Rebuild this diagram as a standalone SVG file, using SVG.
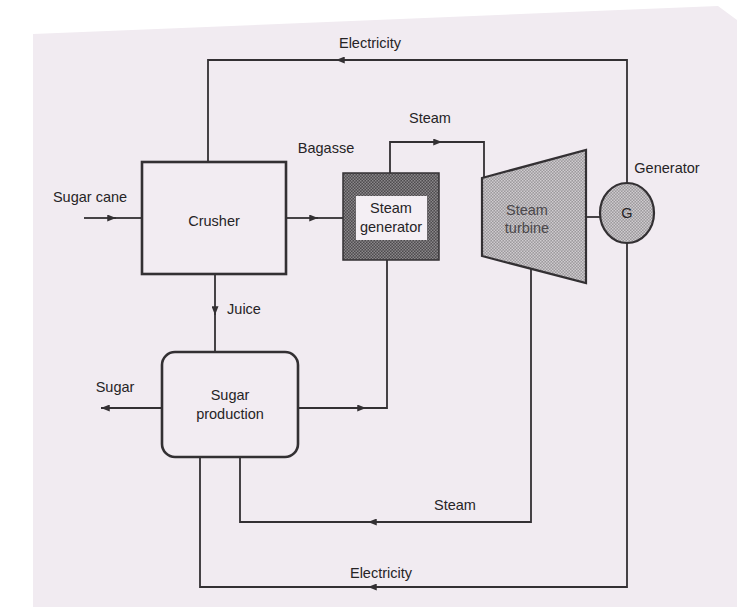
<svg xmlns="http://www.w3.org/2000/svg" width="737" height="607" viewBox="0 0 737 607">
  <defs>
    <style>
      .t { font-family: "Liberation Sans", Arial, sans-serif; font-size: 14.5px; fill: #262426; text-anchor: middle; }
      .ln { fill: none; stroke: #333033; stroke-width: 1.8; stroke-linejoin: miter; }
      .arr { fill: none; stroke: #333033; stroke-width: 1.8; marker-end: url(#ah); }
      .box { fill: #f2ecf2; stroke: #333033; stroke-width: 2.6; }
    </style>
    <marker id="ah" viewBox="0 0 10 8" refX="10" refY="4" markerWidth="9" markerHeight="7" markerUnits="userSpaceOnUse" orient="auto">
      <path d="M0,0 L10,4 L0,8 Z" fill="#333033"/>
    </marker>
    <pattern id="darkHatch" width="3" height="3" patternUnits="userSpaceOnUse">
      <rect width="3" height="3" fill="#4e4b4e"/>
      <rect x="0" y="0" width="1.5" height="1.5" fill="#8a878a"/>
      <rect x="1.5" y="1.5" width="1.5" height="1.5" fill="#8a878a"/>
    </pattern>
    <pattern id="lightHatch" width="3" height="3" patternUnits="userSpaceOnUse">
      <rect width="3" height="3" fill="#9c999c"/>
      <rect x="0" y="0" width="1.5" height="1.5" fill="#cfcbcf"/>
      <rect x="1.5" y="1.5" width="1.5" height="1.5" fill="#cfcbcf"/>
    </pattern>
  </defs>

  <!-- scanned page background -->
  <rect width="737" height="607" fill="#ffffff"/>
  <polygon points="33,34 718,6 737,20 737,607 33,607" fill="#f1ebf1"/>

  <!-- connectors -->
  <g id="connectors">
    <!-- Sugar cane in -->
    <path class="arr" d="M84,218 L116,218"/>
    <path class="ln" d="M114,218 L142,218"/>
    <!-- Bagasse -->
    <path class="arr" d="M286,218 L318,218"/>
    <path class="ln" d="M316,218 L343,218"/>
    <!-- Juice -->
    <path class="arr" d="M215,274 L215,315"/>
    <path class="ln" d="M215,313 L215,352"/>
    <!-- Sugar out -->
    <path class="arr" d="M162,408 L101,408"/>
    <!-- Sugar production to steam generator -->
    <path class="arr" d="M298,408 L366,408"/>
    <path class="ln" d="M364,408 L387,408 L387,260"/>
    <!-- Steam to turbine -->
    <path class="arr" d="M390,173 L390,142 L442,142"/>
    <path class="ln" d="M440,142 L484,142 L484,178"/>
    <!-- Shaft -->
    <path class="ln" d="M586,217 L600,217"/>
    <!-- Electricity top -->
    <path class="arr" d="M627,183 L627,60 L336,60"/>
    <path class="ln" d="M338,60 L208,60 L208,162"/>
    <!-- Steam bottom -->
    <path class="arr" d="M531,269 L531,522 L368,522"/>
    <path class="ln" d="M370,522 L240,522 L240,457"/>
    <!-- Electricity bottom -->
    <path class="arr" d="M627,243 L627,587 L368,587"/>
    <path class="ln" d="M370,587 L200,587 L200,457"/>
  </g>

  <!-- nodes -->
  <g id="crusher">
    <rect class="box" x="142" y="162" width="144" height="112"/>
    <text class="t" x="214" y="226">Crusher</text>
  </g>

  <g id="sugar-production">
    <rect class="box" x="162" y="352" width="136" height="105" rx="13" ry="13"/>
    <text class="t" x="230" y="400">Sugar</text>
    <text class="t" x="230" y="419">production</text>
  </g>

  <g id="steam-generator">
    <rect x="343" y="173" width="96" height="87" fill="url(#darkHatch)" stroke="#333033" stroke-width="1.5"/>
    <rect x="356" y="196" width="71" height="44" fill="#f4eff4"/>
    <text class="t" x="391" y="213">Steam</text>
    <text class="t" x="391" y="232">generator</text>
  </g>

  <g id="steam-turbine">
    <polygon points="482,178 586,150 586,283 482,256" fill="url(#lightHatch)" stroke="#333033" stroke-width="2.2" stroke-linejoin="miter"/>
    <text class="t" x="527" y="215" style="fill:#4a474a">Steam</text>
    <text class="t" x="527" y="233" style="fill:#4a474a">turbine</text>
  </g>

  <g id="generator">
    <ellipse cx="627" cy="213" rx="27" ry="30" fill="url(#lightHatch)" stroke="#333033" stroke-width="2.2"/>
    <text class="t" x="627" y="218">G</text>
  </g>

  <!-- labels -->
  <g id="labels">
    <text class="t" x="370" y="48">Electricity</text>
    <text class="t" x="430" y="123">Steam</text>
    <text class="t" x="326" y="153">Bagasse</text>
    <text class="t" x="90" y="202">Sugar cane</text>
    <text class="t" x="667" y="173">Generator</text>
    <text class="t" x="244" y="314">Juice</text>
    <text class="t" x="115" y="392">Sugar</text>
    <text class="t" x="455" y="510">Steam</text>
    <text class="t" x="381" y="578">Electricity</text>
  </g>
</svg>
